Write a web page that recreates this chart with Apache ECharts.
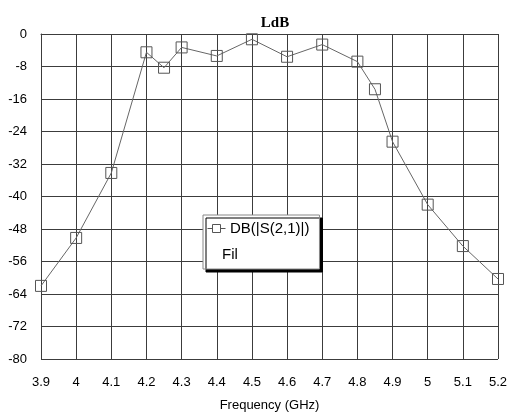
<!DOCTYPE html>
<html><head><meta charset="utf-8">
<script src="https://cdn.jsdelivr.net/npm/echarts@6/dist/echarts.min.js"></script>
<style>html,body{margin:0;padding:0;background:#fff}#c{width:509px;height:412px}</style>
</head><body><div id="c"></div>
<script>
const freqs = [3.9, 4.0, 4.1, 4.2, 4.25, 4.3, 4.4, 4.5, 4.6, 4.7, 4.8, 4.85, 4.9, 5.0, 5.1, 5.2];
const s21 = [-62, -50.2, -34.2, -4.5, -8.3, -3.3, -5.4, -1.3, -5.6, -2.6, -6.8, -13.6, -26.5, -42, -52.2, -60.3];
const seriesName = 'DB(|S(2,1)|)';
const legendSub = 'Fil';
const titleText = 'LdB';
const xName = 'Frequency (GHz)';

const chart = echarts.init(document.getElementById('c'), null, {renderer: 'canvas'});
const gridCol = '#3c3c3c';
chart.setOption({
  animation: false,
  title: {text: titleText, left: 270, top: 11, textAlign: 'center',
    textStyle: {fontFamily: 'Liberation Serif', fontWeight: 'bold', fontSize: 15, color: '#000'}},
  grid: {left: 41, right: 11, top: 34, bottom: 53, containLabel: false, outerBoundsMode: 'none'},
  xAxis: {type: 'value', min: 3.9, max: 5.2, interval: 0.1,
    name: xName, nameLocation: 'middle', nameGap: 40,
    nameTextStyle: {fontFamily: 'Liberation Sans', fontSize: 13, color: '#000'},
    axisLine: {show: true, lineStyle: {color: gridCol}},
    axisTick: {show: false},
    splitLine: {show: true, lineStyle: {color: gridCol, width: 1}},
    axisLabel: {margin: 17, fontFamily: 'Liberation Sans', fontSize: 13, color: '#000',
      formatter: v => String(+v.toFixed(1))}},
  yAxis: {type: 'value', min: -80, max: 0, interval: 8,
    axisLine: {show: true, lineStyle: {color: gridCol}},
    axisTick: {show: false},
    splitLine: {show: true, lineStyle: {color: gridCol, width: 1}},
    axisLabel: {margin: 14, fontFamily: 'Liberation Sans', fontSize: 13, color: '#000'}},
  legend: {show: true, left: 203, top: 215, orient: 'vertical', icon: 'none',
    backgroundColor: '#fff', borderColor: '#888', borderWidth: 1,
    padding: [6, 10, 33, 6], itemWidth: 18, itemHeight: 10, itemGap: 4,
    shadowColor: '#000', shadowBlur: 0, shadowOffsetX: 3, shadowOffsetY: 3,
    textStyle: {fontFamily: 'Liberation Sans', fontSize: 15, color: '#000', padding: [0, 0, 0, -2]},
    data: [seriesName]},
  graphic: [
    {type: 'line', z: 100, shape: {x1: 207.5, y1: 228.5, x2: 225.5, y2: 228.5},
      style: {stroke: '#555', lineWidth: 1}},
    {type: 'rect', z: 101, shape: {x: 212.5, y: 224.5, width: 8, height: 8},
      style: {stroke: '#555', fill: '#fff', lineWidth: 1}},
    {type: 'text', left: 222, top: 247, z: 100,
      style: {text: legendSub, font: '15px "Liberation Sans"', fill: '#000'}}],
  series: [{name: seriesName, type: 'line', data: freqs.map((f, i) => [f, s21[i]]),
    symbol: 'rect', symbolSize: 11, showAllSymbol: true,
    lineStyle: {color: '#666', width: 1},
    itemStyle: {color: 'rgba(255,255,255,0)', borderColor: '#555', borderWidth: 1}}]
});
</script></body></html>
